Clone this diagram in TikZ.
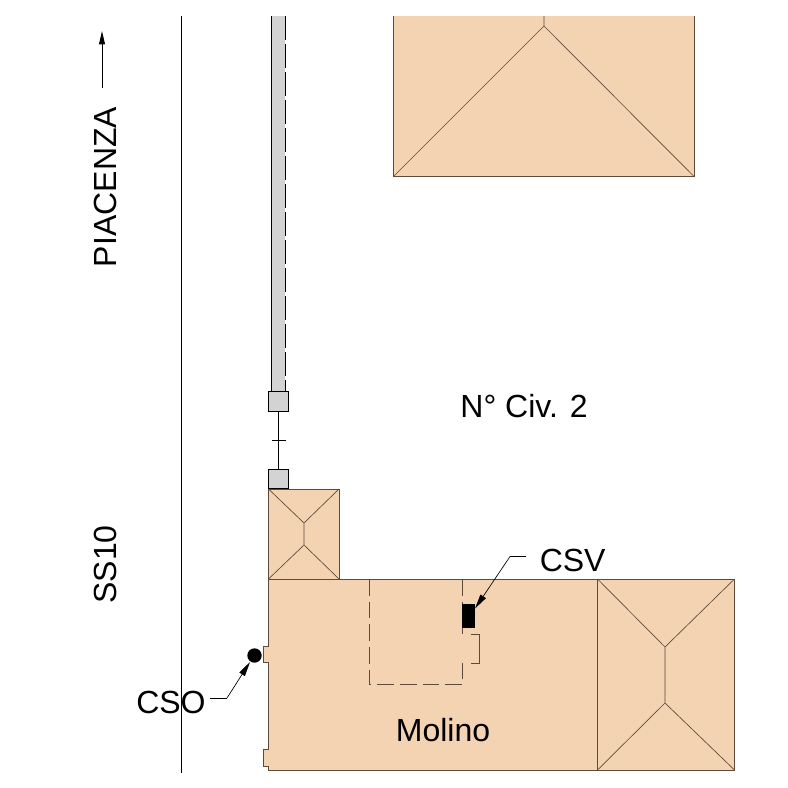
\documentclass[tikz,border=0pt]{standalone}
\usepackage{fontspec}
\setmainfont{Liberation Sans}
\usetikzlibrary{arrows.meta}
\definecolor{roof}{HTML}{F3D3B1}
\definecolor{edgeb}{HTML}{5E4A3A}
\definecolor{greyb}{HTML}{D3D3D3}
\tikzset{
  px/.style={x=0.75pt,y=-0.75pt},
  bldg/.style={fill=roof,draw=edgeb,line width=0.7pt,line join=miter},
  ridge/.style={draw=edgeb,line width=0.5pt},
  hidden/.style={draw=edgeb,line width=0.65pt,dash pattern=on 12.5pt off 4.5pt},
  ink/.style={draw=black,line width=0.75pt},
  thin leader/.style={draw=black,line width=0.5pt},
  pointer/.style={thin leader,-{Triangle[length=11pt,width=4.8pt]}},
  lab/.style={font=\fontsize{24}{24}\selectfont,inner sep=0pt,text=black},
  greybox/.style={fill=greyb,draw=black,line width=0.7pt},
}
\begin{document}
\begin{tikzpicture}[px]
\useasboundingbox (0,0) rectangle (788,788);
% road line
\coordinate (rt) at (181,16); \coordinate (rb) at (181,773);
\draw[ink] (rt) -- (rb);
% direction arrow
\coordinate (at) at (102,31); \coordinate (ab) at (102,88);
\draw[thin leader,line width=0.7pt,-{Triangle[length=10pt,width=4.4pt]}] (ab) -- (at);
% upper fence
\coordinate (fa) at (271,16); \coordinate (fb) at (285,392);
\fill[greyb] (fa) rectangle (fb);
\draw[ink] (fa) -- (271,392);
\draw[ink,dash pattern=on 18pt off 3pt] (285,16) -- (fb);
% gate
\node[greybox,minimum width=15pt,minimum height=15pt,inner sep=0pt,outer sep=0pt] (g1) at (278.5,401.5) {};
\node[greybox,minimum width=15pt,minimum height=14.5pt,inner sep=0pt,outer sep=0pt] (g2) at (278.5,479) {};
\draw[ink] (g1) -- (g2);
\coordinate (tl) at (272,440.5); \coordinate (tr) at (286,440.5);
\draw[ink,line width=0.6pt] (tl) -- (tr);
% top building (open at the top edge of the sheet)
\draw[bldg] (393.5,16) -- (393.5,176.5) -- (694,176.5) -- (694,16);
\coordinate (tp) at (544,26);
\draw[ridge] (393.5,176.5) -- (tp) -- (694,176.5) (tp) -- (544,16);
% small building
\draw[bldg] (268.5,489) rectangle (339,579);
\coordinate (s1) at (304,523); \coordinate (s2) at (304,545);
\draw[ridge] (268.5,489) -- (s1) -- (339,489) (s1) -- (s2) (268.5,579) -- (s2) -- (339,579);
% main building
\draw[bldg] (268.5,579) -- (734.5,579) -- (734.5,770) -- (268.5,770) -- (268.5,766) -- (263.5,766)
  -- (263.5,749) -- (268.5,749) -- (268.5,662) -- (263.5,662) -- (263.5,646) -- (268.5,646) -- cycle;
% right wing
\draw[bldg,fill=none] (597.5,579) -- (597.5,770);
\coordinate (w1) at (665,647); \coordinate (w2) at (665,703);
\draw[ridge] (597.5,579) -- (w1) -- (734.5,579) (w1) -- (w2) (597.5,770) -- (w2) -- (734.5,770);
% hidden outline
\draw[hidden] (369.5,579) -- (369.5,684.5) -- (462.5,684.5) -- (462.5,663);
\draw[hidden] (462.5,579) -- (462.5,634);
\draw[draw=edgeb,line width=0.65pt] (471,634) -- (479.5,634) -- (479.5,663) -- (471,663);
% CSV
\node[fill=black,minimum width=9.75pt,minimum height=18pt,inner sep=0pt,outer sep=0pt] (csvbox) at (468.5,616) {};
\node[lab,anchor=west] (csv) at (539.5,560) {CSV};
\coordinate (csvk) at (510,556.5); \coordinate (csve) at (526,556.5); \coordinate (csvt) at (475,608.5);
\draw[thin leader] (csve) -- (csvk);
\draw[pointer] (csvk) -- (csvt);
% CSO
\node[circle,fill=black,minimum size=10.8pt,inner sep=0pt,outer sep=0pt] (cso dot) at (254.5,655.5) {};
\node[lab,anchor=west] (cso) at (136,702) {CSO};
\coordinate (csok) at (227,698); \coordinate (csoe) at (210,698); \coordinate (csot) at (250,662);
\draw[thin leader] (csoe) -- (csok);
\draw[pointer] (csok) -- (csot);
% labels
\node[lab] (mol) at (443,730) {Molino};
\node[lab] (civ) at (524,406) {N° Civ. 2};
\node[lab,rotate=90] (pia) at (105,187) {PIACENZA};
\node[lab,rotate=90] (ss) at (105,564.5) {SS10};
\end{tikzpicture}
\end{document}
